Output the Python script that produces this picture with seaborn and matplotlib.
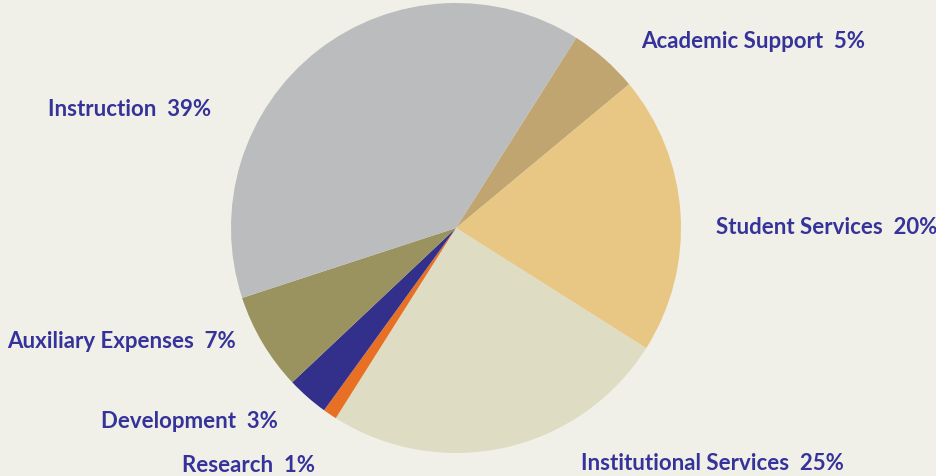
import matplotlib.pyplot as plt
import seaborn as sns

# budget shares, clockwise from Academic Support
categories = ['Academic Support', 'Student Services', 'Institutional Services',
              'Research', 'Development', 'Auxiliary Expenses', 'Instruction']
shares = [5, 20, 25, 1, 3, 7, 39]
colors = ['#c0a570', '#e8c785', '#dfdcc4', '#e87025', '#33308c', '#9a935f', '#bbbcbe']

# label anchor in figure pixels (left x, center y from top)
label_pos = {
    'Academic Support': (641, 41),
    'Student Services': (716, 227),
    'Institutional Services': (581, 464),
    'Research': (182, 465),
    'Development': (101, 422),
    'Auxiliary Expenses': (7, 342),
    'Instruction': (48, 109),
}

sns.set_theme(style='white')
plt.rcParams['font.family'] = ['Lato', 'DejaVu Sans']

W, H = 937, 476
bg = '#f1f0e8'
fig = plt.figure(figsize=(W / 100, H / 100), dpi=100, facecolor=bg)

cx, cy, r = 456, 228, 225
ax = fig.add_axes([(cx - r) / W, (H - cy - r) / H, 2 * r / W, 2 * r / H])
ax.set_facecolor(bg)
ax.pie(shares, colors=colors, startangle=57.7, counterclock=False,
       wedgeprops={'linewidth': 0})
ax.set_xlim(-1, 1)
ax.set_ylim(-1, 1)
ax.set_aspect('equal')
ax.axis('off')

for name, val in zip(categories, shares):
    x, y = label_pos[name]
    fig.text(x / W, 1 - y / H, f'{name}  {val}%', color='#35339a',
             fontsize=16, fontweight='bold', ha='left', va='center')

fig.savefig('out.png', dpi=100, facecolor=bg)
